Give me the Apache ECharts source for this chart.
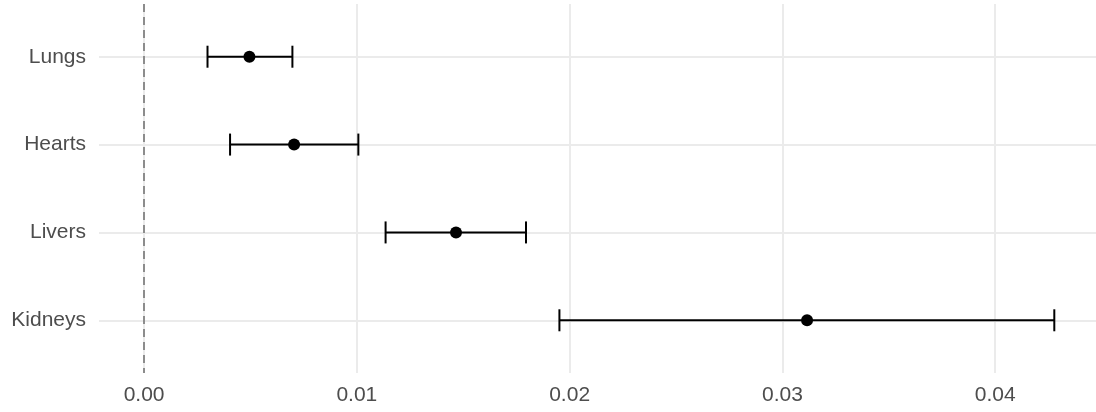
<!DOCTYPE html>
<html>
<head>
<meta charset="utf-8">
<script src="https://cdn.jsdelivr.net/npm/echarts@6/dist/echarts.min.js"></script>
<style>
html,body{margin:0;padding:0;background:#fff;}
#chart{width:1096px;height:412px;}
</style>
</head>
<body>
<div id="chart"></div>
<script>
const categories = ['Lungs', 'Hearts', 'Livers', 'Kidneys'];
const estimate = [0.00495, 0.00705, 0.01466, 0.03116];
const lower = [0.00298, 0.00404, 0.01135, 0.01952];
const upper = [0.00697, 0.01007, 0.01795, 0.04278];
const xMajorTicks = [0, 0.01, 0.02, 0.03, 0.04];
const xMinorTicks = [0.005, 0.015, 0.025, 0.035];
const xTickLabels = ['0.00', '0.01', '0.02', '0.03', '0.04'];
const refLine = 0;

const catPos = categories.map((c, i) => i + 1);
const FONT = 'Liberation Sans, Arial, sans-serif';

const chart = echarts.init(document.getElementById('chart'), null, {renderer: 'canvas'});

const option = {
  animation: false,
  backgroundColor: '#ffffff',
  grid: {left: 99, right: 0, top: 4, bottom: 39, containLabel: false},
  xAxis: {
    type: 'value',
    min: -0.00212,
    max: 0.04474,
    axisLine: {show: false},
    axisTick: {show: false},
    splitLine: {show: false},
    axisLabel: {
      customValues: xMajorTicks,
      formatter: function (v) {
        const i = xMajorTicks.findIndex(t => Math.abs(t - v) < 1e-9);
        return i >= 0 ? xTickLabels[i] : '';
      },
      color: '#4D4D4D', fontSize: 21, fontFamily: FONT, margin: 12
    }
  },
  yAxis: {
    type: 'value',
    min: 0.4,
    max: 4.6,
    inverse: true,
    axisLine: {show: false},
    axisTick: {show: false},
    splitLine: {show: false},
    axisLabel: {
      customValues: catPos,
      formatter: function (v) {
        const i = Math.round(v) - 1;
        return categories[i] || '';
      },
      color: '#4D4D4D', fontSize: 21, fontFamily: FONT, margin: 13,
      padding: [3, 0, 0, 0]
    }
  },
  series: [
    {
      // grid lines
      type: 'line',
      data: [],
      z: 0,
      silent: true,
      markLine: {
        z: 0,
        silent: true,
        symbol: 'none',
        animation: false,
        label: {show: false},
        emphasis: {disabled: true},
        data: [].concat(
          xMinorTicks.map(v => ({xAxis: v, lineStyle: {color: '#EBEBEB', width: 1, type: 'solid'}})),
          xMajorTicks.map(v => ({xAxis: v, lineStyle: {color: '#EBEBEB', width: 2, type: 'solid'}})),
          catPos.map(v => ({yAxis: v, lineStyle: {color: '#EBEBEB', width: 2, type: 'solid'}}))
        )
      }
    },
    {
      // reference line at zero
      type: 'line',
      data: [],
      z: 1,
      silent: true,
      markLine: {
        z: 1,
        silent: true,
        symbol: 'none',
        animation: false,
        label: {show: false},
        emphasis: {disabled: true},
        data: [{xAxis: refLine, lineStyle: {color: '#8C8C8C', width: 2, type: [8, 5]}}]
      }
    },
    {
      type: 'custom',
      z: 3,
      data: categories.map((c, i) => [lower[i], upper[i], catPos[i]]),
      renderItem: function (params, api) {
        const p1 = api.coord([api.value(0), api.value(2)]);
        const p2 = api.coord([api.value(1), api.value(2)]);
        const h = 11;
        return {
          type: 'group',
          children: [
            {type: 'line', shape: {x1: p1[0], y1: p1[1], x2: p2[0], y2: p2[1]}, style: {stroke: '#000', lineWidth: 2}},
            {type: 'line', shape: {x1: p1[0], y1: p1[1] - h, x2: p1[0], y2: p1[1] + h}, style: {stroke: '#000', lineWidth: 2}},
            {type: 'line', shape: {x1: p2[0], y1: p2[1] - h, x2: p2[0], y2: p2[1] + h}, style: {stroke: '#000', lineWidth: 2}}
          ]
        };
      }
    },
    {
      type: 'scatter',
      z: 4,
      symbol: 'circle',
      symbolSize: 12,
      itemStyle: {color: '#000', opacity: 1},
      data: categories.map((c, i) => [estimate[i], catPos[i]])
    }
  ]
};

chart.setOption(option);
</script>
</body>
</html>
